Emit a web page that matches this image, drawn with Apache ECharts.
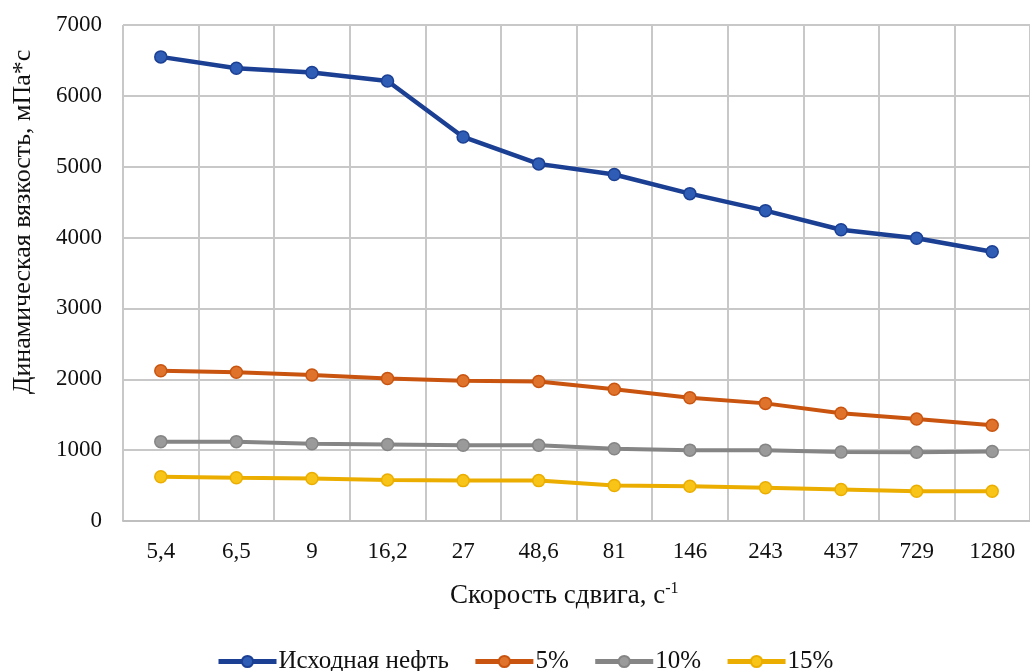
<!DOCTYPE html>
<html>
<head>
<meta charset="utf-8">
<script src="https://cdn.jsdelivr.net/npm/echarts@6/dist/echarts.min.js"></script>
<style>
html,body{margin:0;padding:0;background:#fff;}
#chart{width:1030px;height:671px;}
</style>
</head>
<body>
<div id="chart"></div>
<script>
const categories = ['5,4','6,5','9','16,2','27','48,6','81','146','243','437','729','1280'];
const seriesNames = ['Исходная нефть','5%','10%','15%'];
const baseOil = [6550,6390,6330,6210,5420,5040,4890,4620,4380,4110,3990,3800];
const pct5 = [2120,2100,2060,2010,1980,1970,1860,1740,1660,1520,1440,1350];
const pct10 = [1120,1120,1090,1080,1070,1070,1020,1000,1000,975,970,980];
const pct15 = [625,610,600,580,570,570,500,490,470,445,420,420];
const yTicks = {min:0, max:7000, interval:1000};

const FONT = 'Liberation Serif';
const colors = ['#1B3F93','#C9540F','#858585','#EBAE00'];
const markerFill = ['#2F5DB5','#E0732C','#9A9A9A','#F7C417'];
const dataSets = [baseOil, pct5, pct10, pct15];

const chart = echarts.init(document.getElementById('chart'), null, {renderer:'canvas'});
chart.setOption({
  backgroundColor:'#fff',
  animation:false,
  grid:{left:123, top:25, width:918, height:496, containLabel:false},
  xAxis:{
    type:'category', data:categories, boundaryGap:true,
    axisLine:{show:true, lineStyle:{color:'#BFBFBF', width:2}},
    axisTick:{show:false},
    splitLine:{show:true, lineStyle:{color:'#C8C8C8', width:2}},
    axisLabel:{color:'#111', fontFamily:FONT, fontSize:23, margin:19, interval:0}
  },
  yAxis:{
    type:'value', min:yTicks.min, max:yTicks.max, interval:yTicks.interval,
    axisLine:{show:false}, axisTick:{show:false},
    splitLine:{show:true, lineStyle:{color:'#C8C8C8', width:2}},
    axisLabel:{color:'#111', fontFamily:FONT, fontSize:23, margin:21, formatter:v=>String(v)}
  },
  legend:{
    top:644, left:211,
    itemWidth:58, itemHeight:14, itemGap:24,
    lineStyle:{width:5},
    textStyle:{color:'#111', fontFamily:FONT, fontSize:25, padding:[0,0,0,-3]},
    data:seriesNames
  },
  graphic:[
    {type:'text', left:450, top:581, style:{
      text:'{a|Скорость сдвига, с}{s|-1}',
      rich:{a:{fontFamily:FONT, fontSize:27, fill:'#111'}, s:{fontFamily:FONT, fontSize:16, fill:'#111', verticalAlign:'top', padding:[0,0,14,0]}}
    }},
    {type:'text', x:23, y:222, rotation:Math.PI/2, style:{
      text:'Динамическая вязкость, мПа*с', fontFamily:FONT, fontSize:26, fill:'#111',
      align:'center', verticalAlign:'middle'
    }}
  ],
  series: dataSets.map((d,i)=>({
    name:seriesNames[i], type:'line', data:d,
    symbol:'circle', symbolSize:12, showSymbol:true,
    lineStyle:{color:colors[i], width:i===0?4.5:4},
    itemStyle:{color:markerFill[i], borderColor:colors[i], borderWidth:1.5},
    z: 10-i
  }))
});
</script>
</body>
</html>
